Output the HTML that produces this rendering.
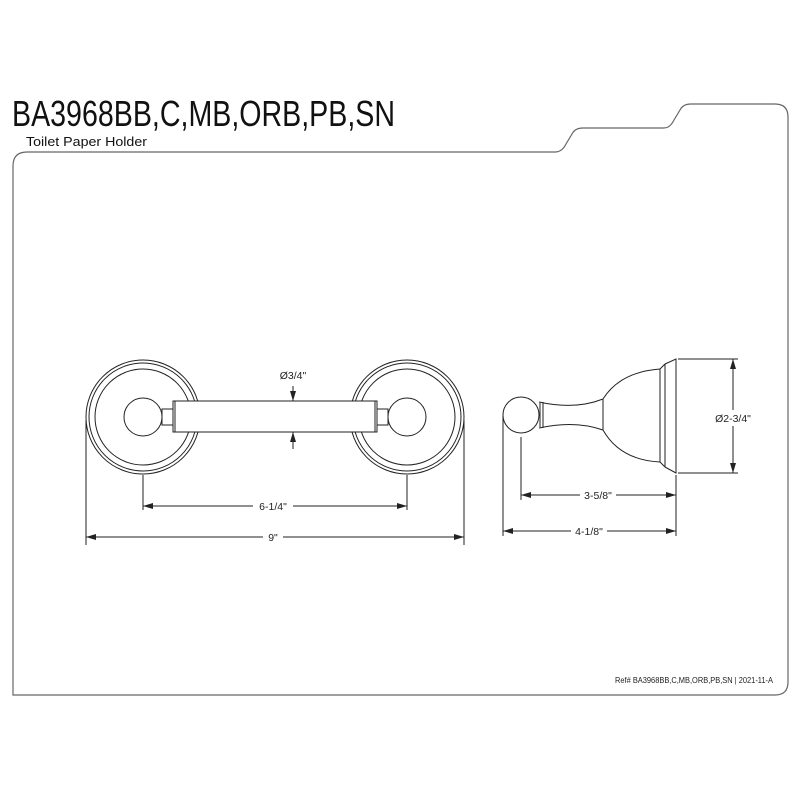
<!DOCTYPE html>
<html><head><meta charset="utf-8"><style>body{margin:0;background:#fff}svg{display:block}</style></head><body>
<svg width="800" height="800" viewBox="0 0 800 800" xmlns="http://www.w3.org/2000/svg" font-family="Liberation Sans, Arial, sans-serif">
<rect width="800" height="800" fill="#fff"/>
<text x="12" y="126" font-size="36" textLength="383" lengthAdjust="spacingAndGlyphs" fill="#111">BA3968BB,C,MB,ORB,PB,SN</text>
<text x="26" y="146" font-size="13" textLength="121" lengthAdjust="spacingAndGlyphs" fill="#111">Toilet Paper Holder</text>
<path d="M13,695 L13,166 Q13,152 27,152 L555,152 Q562,152 566,144 L572,134 Q575,128 583,128 L664,128 Q670,128 674,120 L680,110 Q683,104 691,104 L775,104 Q788,104 788,117 L788,682 Q788,695 775,695 Z" fill="none" stroke="#666" stroke-width="1.2"/>
<text x="773" y="683" font-size="8.5" text-anchor="end" textLength="158" lengthAdjust="spacingAndGlyphs" fill="#222">Ref# BA3968BB,C,MB,ORB,PB,SN | 2021-11-A</text>
<defs><marker id="a" viewBox="0 0 10 6" refX="10" refY="3" markerWidth="10" markerHeight="6" orient="auto-start-reverse" markerUnits="userSpaceOnUse"><path d="M0,0 L10,3 L0,6 Z" fill="#222"/></marker></defs>
<g fill="none" stroke="#222" stroke-width="1">
<!-- left rosette -->
<circle cx="143" cy="417" r="57"/><circle cx="143" cy="417" r="54"/><circle cx="143" cy="417" r="48"/><circle cx="143" cy="417" r="19"/>
<circle cx="407" cy="417" r="57"/><circle cx="407" cy="417" r="54"/><circle cx="407" cy="417" r="48"/><circle cx="407" cy="417" r="19"/>
<rect x="162" y="409" width="11" height="16" fill="#fff"/><rect x="377" y="409" width="11" height="16" fill="#fff"/>
<rect x="173" y="401" width="204" height="31" fill="#fff"/>
<line x1="175" y1="401" x2="175" y2="432"/><line x1="375" y1="401" x2="375" y2="432"/>
<line x1="293" y1="386" x2="293" y2="401" marker-end="url(#a)"/>
<line x1="293" y1="449" x2="293" y2="432" marker-end="url(#a)"/>
<line x1="143" y1="475" x2="143" y2="510"/><line x1="407" y1="475" x2="407" y2="510"/>
<line x1="143" y1="506" x2="407" y2="506" marker-start="url(#a)" marker-end="url(#a)"/>
<line x1="86" y1="420" x2="86" y2="545"/><line x1="464" y1="420" x2="464" y2="545"/>
<line x1="86" y1="537" x2="464" y2="537" marker-start="url(#a)" marker-end="url(#a)"/>
<!-- side view -->
<circle cx="521" cy="415" r="18"/>
<path d="M539,402 Q575,410 603,399 M539,428 Q575,420 603,430 M540,403 L540,427 M543,402 L543,428"/>
<path d="M603,399 Q620,372 660,369 M603,430 Q620,460 660,462 M603,399 L603,430"/>
<path d="M660,369 L660,462 M665,364 L665,467 M660,369 L665,364 M660,462 L665,467 M665,364 L676,359 L676,473 L665,467"/>
<line x1="678" y1="359" x2="738" y2="359"/><line x1="678" y1="473" x2="738" y2="473"/>
<line x1="733" y1="359" x2="733" y2="473" marker-start="url(#a)" marker-end="url(#a)"/>
<line x1="521" y1="437" x2="521" y2="500"/><line x1="676" y1="475" x2="676" y2="536"/>
<line x1="521" y1="495" x2="676" y2="495" marker-start="url(#a)" marker-end="url(#a)"/>
<line x1="503" y1="415" x2="503" y2="536"/>
<line x1="503" y1="531" x2="676" y2="531" marker-start="url(#a)" marker-end="url(#a)"/>
</g>
<g font-size="10.5" fill="#222" text-anchor="middle">
<text x="293" y="379">Ø3/4"</text>
<rect x="253" y="499" width="40" height="14" fill="#fff"/><text x="273" y="510">6-1/4"</text>
<rect x="263" y="530" width="20" height="14" fill="#fff"/><text x="273" y="541">9"</text>
<rect x="708" y="410" width="50" height="16" fill="#fff"/><text x="733" y="422">Ø2-3/4"</text>
<rect x="580" y="488" width="36" height="14" fill="#fff"/><text x="598" y="499">3-5/8"</text>
<rect x="571" y="524" width="36" height="14" fill="#fff"/><text x="589" y="535">4-1/8"</text>
</g>
</svg>
</body></html>
